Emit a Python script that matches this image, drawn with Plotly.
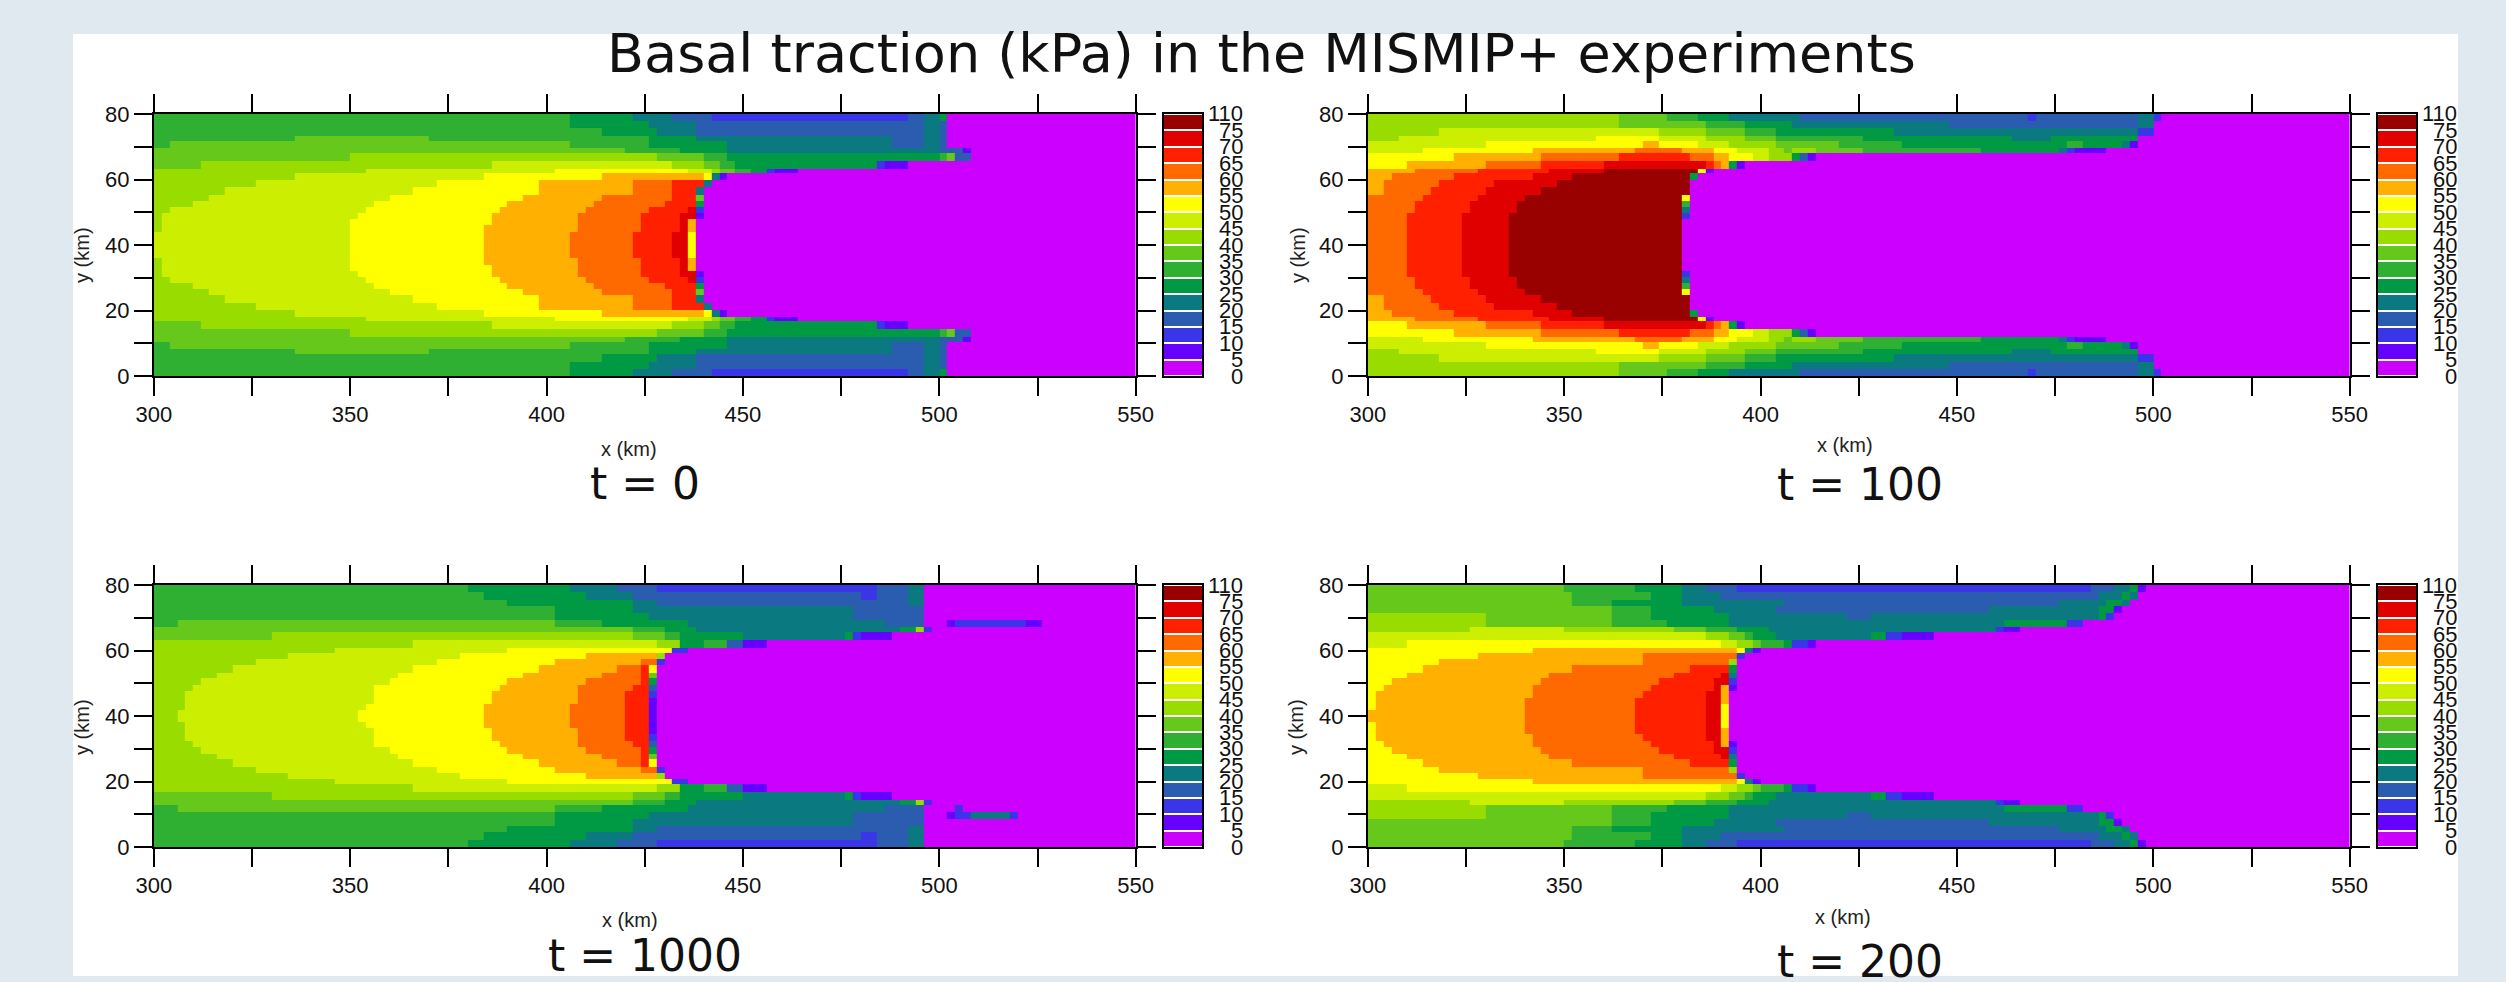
import plotly.graph_objects as go

# ---------- data ----------
TITLE = "Basal traction (kPa) in the MISMIP+ experiments"
LEVELS = [0, 5, 10, 15, 20, 25, 30, 35, 40, 45, 50, 55, 60, 65, 70, 75, 110]
BAND_COLORS = ["#cc00ff", "#6600ff", "#3a35e6", "#2a5cb0", "#0b7a80", "#009944", "#30b033", "#66c81a",
               "#99dd00", "#ccee00", "#ffff00", "#ffb000", "#ff6a00", "#ff2000", "#e00000", "#990000"]
X_TICKS = [300, 325, 350, 375, 400, 425, 450, 475, 500, 525, 550]
X_TEXT = ["300", "", "350", "", "400", "", "450", "", "500", "", "550"]
Y_TICKS = [0, 10, 20, 30, 40, 50, 60, 70, 80]
Y_TEXT = ["0", "", "20", "", "40", "", "60", "", "80"]
X_EDGES = list(range(300, 552, 2))
# row edges (km) from the top edge down to the centre line, as they appear in the image
Y_EDGES_UPPER = [80, 78, 75.8, 73.3, 71.9, 69.5, 68, 65.6, 63.3, 61.9, 59.7, 57.8, 55.3, 53.4, 51.7, 49.7, 47.8, 46.1, 44.1, 42, 40]
Y_EDGES_LOWER = [80, 78, 75.4, 73.6, 71.3, 69.3, 67.3, 65.7, 63.2, 60.9, 59.3, 57.5, 55.5, 53, 51.5, 49.4, 47.6, 45.6, 43.6, 41.8, 40]

# each row: (band, x where the band ends); band 0 continues to x = 550
T0_ROWS = [
    [(6,406),(5,422),(4,432),(3,442),(2,492),(3,496),(4,500),(5,502)],
    [(6,406),(5,426),(4,438),(3,496),(4,500),(3,502)],
    [(6,414),(5,428),(4,438),(3,496),(4,500),(3,502)],
    [(6,336),(7,371),(6,426),(5,438),(4,488),(3,496),(4,500),(3,502)],
    [(6,304),(7,407),(6,426),(5,446),(4,488),(3,497),(4,500),(3,502)],
    [(7,420),(6,434),(5,446),(4,500),(3,507),(1,509)],
    [(7,351),(8,428),(7,440),(6,446),(5,500),(6,503),(7,505),(3,508)],
    [(7,312),(8,386),(9,432),(8,440),(7,444),(6,448),(5,484),(2,486),(1,492)],
    [(8,354),(9,402),(10,436),(9,442),(8,444),(7,448),(6,453),(5,456),(2,458),(1,464)],
    [(8,336),(9,384),(10,415),(11,440),(10,442),(4,444),(1,446)],
    [(8,326),(9,372),(10,398),(11,422),(12,432),(13,440),(4,442)],
    [(8,318),(9,366),(10,398),(11,422),(12,432),(13,438),(4,440)],
    [(8,314),(9,360),(10,394),(11,414),(12,432),(13,438),(7,440)],
    [(8,310),(9,356),(10,390),(11,412),(12,430),(13,438),(5,440)],
    [(8,305),(9,354),(10,388),(11,410),(12,426),(13,436),(14,438),(2,440)],
    [(8,303),(9,352),(10,386),(11,408),(12,424),(13,434),(14,438),(1,440)],
    [(8,302),(9,350),(10,386),(11,408),(12,424),(13,434),(14,436),(11,438)],
    [(8,302),(9,350),(10,384),(11,408),(12,424),(13,434),(14,436),(11,438)],
    [(9,350),(10,384),(11,406),(12,422),(13,432),(14,436),(10,438)],
    [(9,350),(10,384),(11,406),(12,422),(13,432),(14,436),(10,438)],
]
T100_ROWS = [
    [(8,364),(7,376),(6,384),(5,392),(4,410),(3,468),(2,470),(3,496),(4,500),(2,502)],
    [(8,364),(7,386),(6,396),(5,408),(4,448),(3,496),(4,500)],
    [(8,319),(9,374),(8,386),(7,396),(6,404),(5,435),(4,496),(5,497),(2,500)],
    [(8,308),(9,358),(10,374),(9,386),(8,396),(7,404),(6,426),(5,464),(4,474),(5,496),(2,497)],
    [(9,330),(10,370),(11,374),(10,385),(9,393),(8,404),(7,420),(6,437),(5,479),(6,483),(5,492),(4,494),(1,496)],
    [(9,314),(10,342),(11,368),(12,380),(11,388),(10,395),(9,402),(8,406),(7,408),(8,415),(7,427),(6,457),(5,476),(4,478),(2,481),(1,488)],
    [(10,323),(11,345),(12,364),(13,383),(12,388),(11,393),(10,398),(9,402),(8,408),(5,410),(3,412),(2,413),(1,415)],
    [(10,310),(11,330),(12,345),(13,360),(14,386),(13,388),(12,390),(11,392),(5,395),(1,396)],
    [(11,312),(12,328),(13,346),(14,360),(15,384),(10,386),(1,388)],
    [(11,306),(12,322),(13,342),(14,352),(15,382),(5,384)],
    [(11,304),(12,319),(13,332),(14,348),(15,382)],
    [(11,304),(12,316),(13,330),(14,344),(15,382)],
    [(12,314),(13,328),(14,340),(15,380),(10,382)],
    [(12,312),(13,326),(14,338),(15,380),(6,382)],
    [(12,312),(13,326),(14,338),(15,380),(4,382)],
    [(12,310),(13,324),(14,336),(15,380),(2,382)],
    [(12,310),(13,324),(14,336),(15,380)],
    [(12,310),(13,324),(14,336),(15,380)],
    [(12,310),(13,324),(14,336),(15,380)],
    [(12,310),(13,324),(14,336),(15,380)],
]
T1000_ROWS = [
    [(6,380),(5,406),(4,418),(3,428),(2,485),(3,492),(4,496)],
    [(6,384),(5,411),(4,422),(3,480),(2,485),(3,492),(4,496)],
    [(6,391),(5,422),(4,428),(3,492),(4,496)],
    [(6,402),(5,422),(4,478),(3,496)],
    [(6,402),(5,426),(4,478),(3,496)],
    [(6,306),(7,402),(6,414),(5,436),(4,487),(3,496),(0,502),(1,504),(2,522),(1,526)],
    [(7,422),(6,430),(5,438),(4,490),(5,494),(8,496),(2,498)],
    [(7,330),(8,422),(7,430),(6,434),(5,450),(4,476),(5,478),(2,480),(1,488)],
    [(8,366),(9,428),(8,434),(5,440),(6,446),(3,450),(1,456)],
    [(8,346),(9,390),(10,432),(2,436)],
    [(8,334),(9,378),(10,410),(11,428),(8,430)],
    [(8,326),(9,372),(10,402),(11,424),(12,428),(2,430)],
    [(8,320),(9,366),(10,398),(11,418),(12,424),(13,426),(10,428)],
    [(8,316),(9,362),(10,394),(11,414),(12,424),(13,426),(7,428)],
    [(8,312),(9,360),(10,390),(11,410),(12,424),(13,426),(5,428)],
    [(8,310),(9,356),(10,388),(11,408),(12,422),(13,426),(3,428)],
    [(8,308),(9,356),(10,386),(11,408),(12,420),(13,426),(2,428)],
    [(8,308),(9,356),(10,386),(11,408),(12,420),(13,426),(1,428)],
    [(8,308),(9,354),(10,384),(11,406),(12,420),(13,426),(1,428)],
    [(8,306),(9,352),(10,384),(11,406),(12,420),(13,426),(1,428)],
]
# rows of the t = 1000 field whose lower half differs from the upper half
T1000_LOWER_CHANGES = {
    4: [(6,402),(5,426),(4,478),(3,496),(0,502),(1,504),(2,508),(4,518),(2,520)],
    5: [(6,306),(7,402),(6,414),(5,436),(4,487),(3,496),(0,504),(2,506)],
}
T200_ROWS = [
    [(7,350),(6,369),(5,380),(4,386),(3,394),(2,484),(3,490),(4,494),(5,496),(1,498)],
    [(7,352),(6,372),(5,380),(4,390),(3,486),(4,492),(5,494),(4,496)],
    [(7,352),(6,362),(5,380),(4,406),(3,476),(4,488),(5,492),(4,494)],
    [(7,362),(6,372),(5,388),(4,405),(3,458),(4,486),(5,490),(1,492)],
    [(8,330),(7,362),(6,372),(5,392),(4,422),(3,429),(4,486),(5,488),(2,490)],
    [(8,330),(7,362),(6,376),(5,392),(4,462),(5,479),(2,482)],
    [(8,326),(9,350),(8,378),(7,386),(6,394),(5,402),(4,460),(2,462),(1,466)],
    [(9,386),(8,392),(7,396),(6,399),(5,404),(4,429),(5,433),(2,437),(1,444)],
    [(9,310),(10,390),(9,394),(8,398),(7,400),(6,406),(5,408),(2,412),(1,415)],
    [(10,342),(11,394),(10,396),(4,398),(1,400)],
    [(10,328),(11,370),(12,394),(2,396)],
    [(10,318),(11,370),(12,392),(8,394)],
    [(10,314),(11,352),(12,382),(13,392),(5,394)],
    [(10,310),(11,347),(12,378),(13,390),(14,392),(4,394)],
    [(10,306),(11,344),(12,374),(13,388),(14,392),(2,394)],
    [(10,304),(11,342),(12,372),(13,388),(14,390),(11,392),(1,394)],
    [(10,302),(11,342),(12,370),(13,386),(14,390),(11,392)],
    [(10,302),(11,340),(12,368),(13,386),(14,390),(11,392)],
    [(10,302),(11,340),(12,368),(13,386),(14,390),(10,392)],
    [(11,340),(12,368),(13,386),(14,390),(10,392)],
]

# ---------- page layout (pixels) ----------
W, H = 2506, 982
BG = "#e1e9f0"
TXT = "#111111"
PANELS = [
    dict(rows=T0_ROWS, edges=Y_EDGES_UPPER, lower={}, x=(153.8, 1135.7), y=(114, 376), cb=(1163.5, 1202),
         t="t = 0", tpos=(645, 483), xt=(629, 449), yt=(82, 255)),
    dict(rows=T100_ROWS, edges=Y_EDGES_UPPER, lower={}, x=(1367.8, 2349.7), y=(114, 376), cb=(2377.5, 2416),
         t="t = 100", tpos=(1860, 484), xt=(1845, 445), yt=(1298, 255)),
    dict(rows=T1000_ROWS, edges=Y_EDGES_LOWER, lower=T1000_LOWER_CHANGES, x=(153.8, 1135.7), y=(585, 847), cb=(1163.5, 1202),
         t="t = 1000", tpos=(645, 955), xt=(630, 920), yt=(82, 727)),
    dict(rows=T200_ROWS, edges=Y_EDGES_LOWER, lower={}, x=(1367.8, 2349.7), y=(585, 847), cb=(2377.5, 2416),
         t="t = 200", tpos=(1860, 961), xt=(1843, 917), yt=(1296, 727)),
]

MIDS = [(LEVELS[i] + LEVELS[i + 1]) / 2 for i in range(16)]
SCALE = []
for i, c in enumerate(BAND_COLORS):
    SCALE += [[LEVELS[i] / 110, c], [LEVELS[i + 1] / 110, c]]


def px(x):
    return x / W


def py(y):
    return 1 - y / H


def expand(runs):
    out = []
    for a, b in zip(X_EDGES[:-1], X_EDGES[1:]):
        c = (a + b) / 2
        band = 0
        for bd, end in runs:
            if c < end:
                band = bd
                break
        out.append(MIDS[band])
    return out


def label(text, x, y, size, family="Liberation Sans", color=TXT, xanchor="center", angle=0):
    return dict(text=text, x=px(x), y=py(y), xref="paper", yref="paper", xanchor=xanchor, yanchor="middle",
                showarrow=False, textangle=angle, font=dict(size=size, family=family, color=color))


fig = go.Figure()
layout = dict(
    width=W, height=H, autosize=False, margin=dict(l=0, r=0, t=0, b=0, pad=0, autoexpand=False),
    paper_bgcolor=BG, plot_bgcolor="#000000", showlegend=False,
    font=dict(family="Liberation Sans", color=TXT),
    shapes=[dict(type="rect", xref="paper", yref="paper", x0=px(73), x1=px(2458), y0=py(976), y1=py(34),
                 fillcolor="#ffffff", line=dict(width=0), layer="below")],
)
ann = [label(TITLE, 1261, 54, 54, family="DejaVu Sans")]
AX = dict(showgrid=False, zeroline=False, showline=True, linecolor="#000000", linewidth=2,
          mirror="ticks", ticks="outside", ticklen=18, tickwidth=2, tickcolor="#000000",
          tickfont=dict(size=22, family="Liberation Sans", color=TXT), tickmode="array")

for k, p in enumerate(PANELS):
    # rows are listed from y = 80 down to the centre line; the heatmap's y ascends from y = 0
    z = [expand(p["lower"].get(i, p["rows"][i])) for i in range(20)] + [expand(p["rows"][i]) for i in range(19, -1, -1)]
    e = p["edges"]
    y_edges = [80 - v for v in e] + e[-2::-1]
    n = 2 * k + 1
    xa, ya = f"x{n}", f"y{n}"
    fig.add_trace(go.Heatmap(x=X_EDGES, y=y_edges, z=z, xaxis=xa, yaxis=ya, zmin=0, zmax=110,
                             colorscale=SCALE, showscale=False, hoverinfo="skip"))
    layout[f"xaxis{n}"] = dict(AX, domain=[px(p["x"][0]), px(p["x"][1])], range=[300, 550], anchor=ya,
                               tickvals=X_TICKS, ticktext=X_TEXT)
    layout[f"yaxis{n}"] = dict(AX, domain=[py(p["y"][1]), py(p["y"][0])], range=[0, 80], anchor=xa,
                               tickvals=Y_TICKS, ticktext=Y_TEXT)
    # key
    m = n + 1
    xb, yb = f"x{m}", f"y{m}"
    fig.add_trace(go.Heatmap(x=[0, 1], y=list(range(17)), z=[[v] for v in MIDS], xaxis=xb, yaxis=yb, zmin=0, zmax=110,
                             colorscale=SCALE, showscale=False, ygap=2, hoverinfo="skip"))
    layout[f"xaxis{m}"] = dict(domain=[px(p["cb"][0]), px(p["cb"][1])], range=[0, 1], anchor=yb, showticklabels=False,
                               ticks="", showgrid=False, zeroline=False, showline=True, linecolor="#000000",
                               linewidth=2, mirror=True)
    layout[f"yaxis{m}"] = dict(domain=[py(p["y"][1]), py(p["y"][0])], range=[0, 16], anchor=xb, showticklabels=False,
                               ticks="", showgrid=False, zeroline=False, showline=True, linecolor="#000000",
                               linewidth=2, mirror=True)
    y0, y1 = p["y"]
    for i, lv in enumerate(LEVELS):
        ann.append(label(str(lv), p["cb"][1] + 43, y1 - (y1 - y0) * i / 16, 22, xanchor="right"))
    ann.append(label(p["t"], p["tpos"][0], p["tpos"][1], 44, family="DejaVu Sans"))
    ann.append(label("x (km)", p["xt"][0], p["xt"][1], 20, color="#222222"))
    ann.append(label("y (km)", p["yt"][0], p["yt"][1], 20, color="#222222", angle=-90))

layout["annotations"] = ann
fig.update_layout(**layout)
fig.write_html("out.html", config=dict(displayModeBar=False),
               post_script="document.body.style.margin='0';document.body.style.background='%s';document.body.style.overflow='hidden';" % BG)
